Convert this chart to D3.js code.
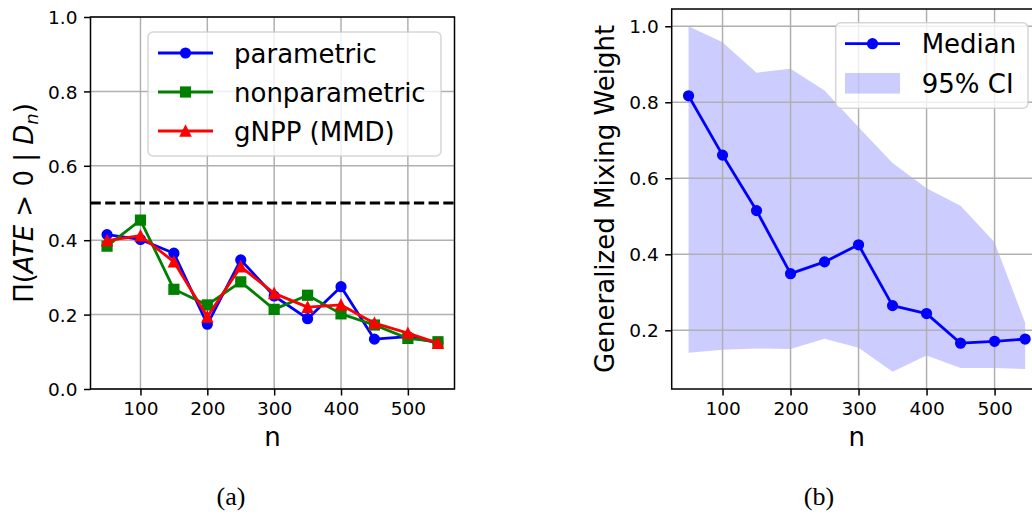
<!DOCTYPE html>
<html>
<head>
<meta charset="utf-8">
<script src="https://cdn.jsdelivr.net/npm/d3@7"></script>
<style>
  html, body { margin: 0; padding: 0; background: #fff; }
  svg { display: block; font-family: "DejaVu Sans", sans-serif; }
</style>
</head>
<body>
<svg id="fig" width="1032" height="515"></svg>
<script>
// Sample sizes shared by both panels
const sampleSizes = [50, 100, 150, 200, 250, 300, 350, 400, 450, 500, 545];

// Panel (a): posterior probability that ATE > 0
const parametric    = [0.415, 0.402, 0.365, 0.174, 0.347, 0.250, 0.189, 0.275, 0.134, 0.141, 0.124];
const nonparametric = [0.384, 0.454, 0.268, 0.226, 0.288, 0.214, 0.252, 0.202, 0.172, 0.136, 0.127];
const gnpp          = [0.399, 0.412, 0.342, 0.194, 0.329, 0.257, 0.220, 0.226, 0.177, 0.150, 0.123];
const referenceLevel = 0.5;

// Panel (b): generalized mixing weight, median and 95% interval
const medianWeight = [0.817, 0.661, 0.515, 0.349, 0.380, 0.425, 0.265, 0.244, 0.166, 0.171, 0.177];
const ciLower      = [0.141, 0.149, 0.152, 0.151, 0.178, 0.154, 0.091, 0.134, 0.101, 0.101, 0.098];
const ciUpper      = [1.000, 0.958, 0.878, 0.888, 0.831, 0.734, 0.640, 0.574, 0.528, 0.432, 0.219];

// Tick labels
const xTicks  = [100, 200, 300, 400, 500];
const yTicksA = [0.0, 0.2, 0.4, 0.6, 0.8, 1.0];
const yTicksB = [0.2, 0.4, 0.6, 0.8, 1.0];

const seriesA = [
  { name: "parametric",    values: parametric,    color: "blue",  marker: "circle" },
  { name: "nonparametric", values: nonparametric, color: "green", marker: "square" },
  { name: "gNPP (MMD)",    values: gnpp,          color: "red",   marker: "triangle" }
];

const svg = d3.select("#fig");
const TICK_FONT = 18.5, LABEL_FONT = 26, TICK_LEN = 6.5, TICK_PAD = 6.5;
const GRID = "#b0b0b0", LW = 2.8;

// matplotlib-like auto margins (5%) on the x extent
const xExt = d3.extent(sampleSizes);
const xPad = 0.05 * (xExt[1] - xExt[0]);
const xDomain = [xExt[0] - xPad, xExt[1] + xPad];

function drawMarker(g, type, cx, cy, color) {
  if (type === "circle") {
    g.append("circle").attr("cx", cx).attr("cy", cy).attr("r", 4.8)
      .attr("fill", color).attr("stroke", color).attr("stroke-width", 1.6);
  } else if (type === "square") {
    const s = 9.6;
    g.append("rect").attr("x", cx - s / 2).attr("y", cy - s / 2).attr("width", s).attr("height", s)
      .attr("fill", color).attr("stroke", color).attr("stroke-width", 1.6);
  } else {
    const h = 5;
    g.append("path").attr("d", `M${cx},${cy - h}L${cx - h},${cy + h}L${cx + h},${cy + h}Z`)
      .attr("fill", color).attr("stroke", color).attr("stroke-width", 1.6).attr("stroke-linejoin", "miter");
  }
}

function setupAxes(box, yDomain) {
  const x = d3.scaleLinear().domain(xDomain).range([box.left, box.right]);
  const y = d3.scaleLinear().domain(yDomain).range([box.bottom, box.top]);
  const g = svg.append("g");
  const clipId = "clip" + Math.round(box.left);
  svg.append("clipPath").attr("id", clipId).append("rect")
    .attr("x", box.left).attr("y", box.top)
    .attr("width", box.right - box.left).attr("height", box.bottom - box.top);
  return { x, y, g, clipId };
}

function drawGrid(ax, box, yTicks) {
  const grid = ax.g.append("g").attr("stroke", GRID).attr("stroke-width", 1.5);
  xTicks.forEach(t => grid.append("line")
    .attr("x1", ax.x(t)).attr("x2", ax.x(t)).attr("y1", box.top).attr("y2", box.bottom));
  yTicks.forEach(t => grid.append("line")
    .attr("x1", box.left).attr("x2", box.right).attr("y1", ax.y(t)).attr("y2", ax.y(t)));
}

function drawAxes(ax, box, yTicks) {
  const xa = ax.g.append("g").attr("transform", `translate(0,${box.bottom})`)
    .call(d3.axisBottom(ax.x).tickValues(xTicks).tickFormat(d3.format("d"))
      .tickSize(TICK_LEN).tickPadding(TICK_PAD));
  const ya = ax.g.append("g").attr("transform", `translate(${box.left},0)`)
    .call(d3.axisLeft(ax.y).tickValues(yTicks).tickFormat(d3.format(".1f"))
      .tickSize(TICK_LEN).tickPadding(TICK_PAD));
  [xa, ya].forEach(a => {
    a.select(".domain").remove();
    a.selectAll(".tick line").attr("stroke", "#000").attr("stroke-width", 1.5);
    a.selectAll(".tick text").attr("fill", "#000")
      .style("font-family", "DejaVu Sans").style("font-size", TICK_FONT + "px");
  });
  xa.selectAll(".tick text").attr("dy", "0.729em");
  ya.selectAll(".tick text").attr("dy", "0.36em");
  // spines
  ax.g.append("rect").attr("x", box.left).attr("y", box.top)
    .attr("width", box.right - box.left).attr("height", box.bottom - box.top)
    .attr("fill", "none").attr("stroke", "#000").attr("stroke-width", 1.5);
  // x label
  ax.g.append("text").attr("x", (box.left + box.right) / 2).attr("y", 446)
    .attr("text-anchor", "middle").style("font-size", LABEL_FONT + "px").text("n");
}

function drawLegend(g, frame, entries) {
  g.append("rect").attr("x", frame.x).attr("y", frame.y)
    .attr("width", frame.w).attr("height", frame.h).attr("rx", 5).attr("ry", 5)
    .attr("fill", "#fff").attr("fill-opacity", 0.8)
    .attr("stroke", "#cccccc").attr("stroke-opacity", 0.8).attr("stroke-width", 1.5);
  entries.forEach((e, i) => {
    const cy = frame.firstY + i * frame.step;
    const x0 = frame.x + frame.handleX, x1 = x0 + 55;
    if (e.patch) {
      g.append("rect").attr("x", x0).attr("y", cy - 10.3).attr("width", 55).attr("height", 20.6)
        .attr("fill", e.color).attr("fill-opacity", 0.2);
    } else {
      g.append("line").attr("x1", x0).attr("x2", x1).attr("y1", cy).attr("y2", cy)
        .attr("stroke", e.color).attr("stroke-width", LW);
      drawMarker(g, e.marker, (x0 + x1) / 2, cy, e.color);
    }
    g.append("text").attr("x", frame.x + frame.textX).attr("y", cy + 9.5)
      .style("font-size", LABEL_FONT + "px").text(e.name);
  });
}

// ---------- Panel (a) ----------
const boxA = { left: 90.5, right: 454.5, top: 17, bottom: 389 };
const axA = setupAxes(boxA, [0, 1]);
drawGrid(axA, boxA, yTicksA);

axA.g.append("line")
  .attr("x1", boxA.left).attr("x2", boxA.right)
  .attr("y1", axA.y(referenceLevel)).attr("y2", axA.y(referenceLevel))
  .attr("stroke", "#000").attr("stroke-width", LW).attr("stroke-dasharray", "10.3,4.4");

const plotA = axA.g.append("g").attr("clip-path", `url(#${axA.clipId})`);
seriesA.forEach(s => {
  const line = d3.line().x((d, i) => axA.x(sampleSizes[i])).y(d => axA.y(d));
  plotA.append("path").datum(s.values).attr("d", line)
    .attr("fill", "none").attr("stroke", s.color).attr("stroke-width", LW)
    .attr("stroke-linejoin", "round").attr("stroke-linecap", "square");
  s.values.forEach((v, i) => drawMarker(plotA, s.marker, axA.x(sampleSizes[i]), axA.y(v), s.color));
});
drawAxes(axA, boxA, yTicksA);
drawLegend(axA.g, { x: 148, y: 32, w: 293, h: 124, firstY: 53, step: 39, handleX: 10, textX: 86 }, seriesA);

// y label with math-style italics: Π(ATE > 0 | D_n)
const labA = svg.append("text")
  .attr("transform", `translate(33,${(boxA.top + boxA.bottom) / 2}) rotate(-90)`)
  .attr("text-anchor", "middle").style("font-size", LABEL_FONT + "px")
  .attr("xml:space", "preserve").style("white-space", "pre");
labA.append("tspan").text("Π(");
labA.append("tspan").style("font-style", "italic").text("ATE");
labA.append("tspan").text(" > 0 | ");
labA.append("tspan").style("font-style", "italic").text("D");
labA.append("tspan").style("font-style", "italic").style("font-size", "18px").attr("dy", 5).text("n");
labA.append("tspan").attr("dy", -5).text(")");

// ---------- Panel (b) ----------
const yLo = d3.min(ciLower), yHi = d3.max(ciUpper);
const yPadB = 0.05 * (yHi - yLo);
const boxB = { left: 671.7, right: 1042, top: 9, bottom: 389 };
const axB = setupAxes(boxB, [yLo - yPadB, yHi + yPadB]);

const band = d3.area()
  .x((d, i) => axB.x(sampleSizes[i]))
  .y0((d, i) => axB.y(ciLower[i]))
  .y1(d => axB.y(d));
axB.g.append("path").datum(ciUpper).attr("d", band)
  .attr("fill", "blue").attr("fill-opacity", 0.2).attr("clip-path", `url(#${axB.clipId})`);

drawGrid(axB, boxB, yTicksB);

const plotB = axB.g.append("g").attr("clip-path", `url(#${axB.clipId})`);
plotB.append("path").datum(medianWeight)
  .attr("d", d3.line().x((d, i) => axB.x(sampleSizes[i])).y(d => axB.y(d)))
  .attr("fill", "none").attr("stroke", "blue").attr("stroke-width", LW).attr("stroke-linejoin", "round");
medianWeight.forEach((v, i) => drawMarker(plotB, "circle", axB.x(sampleSizes[i]), axB.y(v), "blue"));

drawAxes(axB, boxB, yTicksB);
drawLegend(axB.g, { x: 835.7, y: 22.7, w: 192.3, h: 85.6, firstY: 43.7, step: 39.6, handleX: 9.3, textX: 86 },
  [{ name: "Median", color: "blue", marker: "circle" }, { name: "95% CI", color: "blue", patch: true }]);

svg.append("text")
  .attr("transform", `translate(614,${(boxB.top + boxB.bottom) / 2}) rotate(-90)`)
  .attr("text-anchor", "middle").style("font-size", LABEL_FONT + "px")
  .text("Generalized Mixing Weight");

// ---------- Sub-captions ----------
[["(a)", 231], ["(b)", 819]].forEach(([t, cx]) => {
  svg.append("text").attr("x", cx).attr("y", 505).attr("text-anchor", "middle")
    .style("font-family", "Liberation Serif, serif").style("font-size", "26px").text(t);
});
</script>
</body>
</html>
